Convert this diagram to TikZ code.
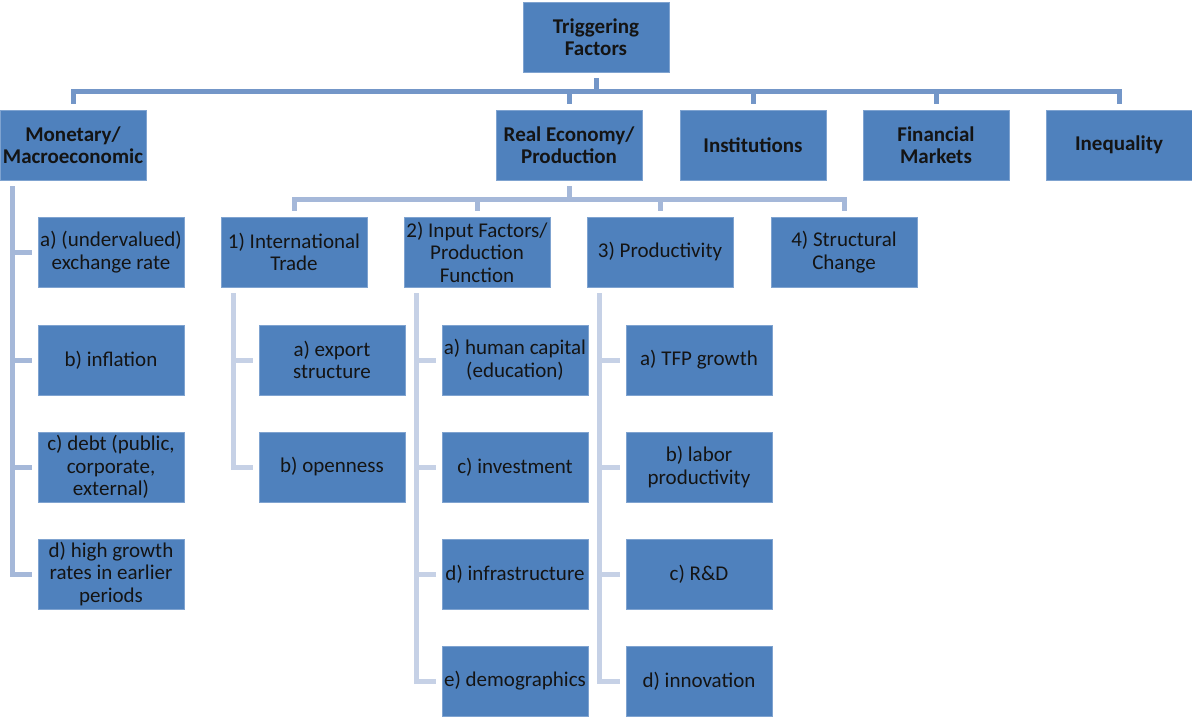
\documentclass[tikz,border=0pt]{standalone}
\usepackage{fontspec}
\setmainfont{Carlito}
\definecolor{boxblue}{HTML}{4F81BD}
\definecolor{boxedge}{HTML}{7FA3D0}
\definecolor{conA}{HTML}{7396C8}
\definecolor{conB}{HTML}{A5B8D9}
\definecolor{conC}{HTML}{C6D1E6}
\begin{document}
\begin{tikzpicture}[x=1pt,y=-1pt,
  every node/.style={font=\fontsize{21}{22.5}\selectfont, text=black!92},
  tbox/.style={draw=boxedge, line width=0.8pt, fill=boxblue, minimum width=146pt, minimum height=70pt, inner sep=0pt, align=center},
  bbox/.style={tbox, font=\fontsize{21}{22.5}\selectfont\bfseries},
  conn/.style={line width=5pt, shorten <=6pt, shorten >=6pt},
  lvA/.style={conn, draw=conA},
  lvB/.style={conn, draw=conB},
  lvC/.style={conn, draw=conC}]
\useasboundingbox (0,0) rectangle (1192,716);

% Level 0
\node[bbox] (top) at (596,37) {Triggering\\Factors};

% Level 1
\node[bbox] (mon)  at (73,145)   {Monetary/\\Macroeconomic};
\node[bbox] (real) at (569,145)  {Real Economy/\\Production};
\node[bbox] (inst) at (753,145)  {Institutions};
\node[bbox] (fin)  at (936,145)  {Financial\\Markets};
\node[bbox] (ineq) at (1119,145) {Inequality};

% Level 2 (real economy)
\node[tbox] (trade)  at (294,252) {1) International\\Trade};
\node[tbox] (input)  at (477,252) {2) Input Factors/\\Production\\Function};
\node[tbox] (prod)   at (660,252) {3) Productivity};
\node[tbox] (struct) at (844,252) {4) Structural\\Change};

% Monetary children
\node[tbox] (m1) at (111,252) {a) (undervalued)\\exchange rate};
\node[tbox] (m2) at (111,360) {b) inflation};
\node[tbox] (m3) at (111,467) {c) debt (public,\\corporate,\\external)};
\node[tbox] (m4) at (111,574) {d) high growth\\rates in earlier\\periods};

% Trade children
\node[tbox] (t1) at (332,360) {a) export\\structure};
\node[tbox] (t2) at (332,467) {b) openness};

% Input children
\node[tbox] (i1) at (515,360) {a) human capital\\(education)};
\node[tbox] (i2) at (515,467) {c) investment};
\node[tbox] (i3) at (515,574) {d) infrastructure};
\node[tbox] (i4) at (515,681) {e) demographics};

% Productivity children
\node[tbox] (p1) at (699,360) {a) TFP growth};
\node[tbox] (p2) at (699,467) {b) labor\\productivity};
\node[tbox] (p3) at (699,574) {c) R\&D};
\node[tbox] (p4) at (699,681) {d) innovation};

% Connectors level 0 -> 1
\foreach \c in {mon,real,inst,fin,ineq}
  \draw[lvA] (top.south) -- ++(0,19) -| (\c.north);

% Connectors real -> level 2
\foreach \c in {trade,input,prod,struct}
  \draw[lvB] (real.south) -- ++(0,19) -| (\c.north);

% Monetary children
\foreach \c in {m1,m2,m3,m4}
  \draw[lvB] ([xshift=-61pt]mon.south) |- (\c.west);

% Trade children
\foreach \c in {t1,t2}
  \draw[lvC] ([xshift=-61pt]trade.south) |- (\c.west);

% Input children
\foreach \c in {i1,i2,i3,i4}
  \draw[lvC] ([xshift=-61pt]input.south) |- (\c.west);

% Productivity children
\foreach \c in {p1,p2,p3,p4}
  \draw[lvC] ([xshift=-61pt]prod.south) |- (\c.west);
\end{tikzpicture}
\end{document}
